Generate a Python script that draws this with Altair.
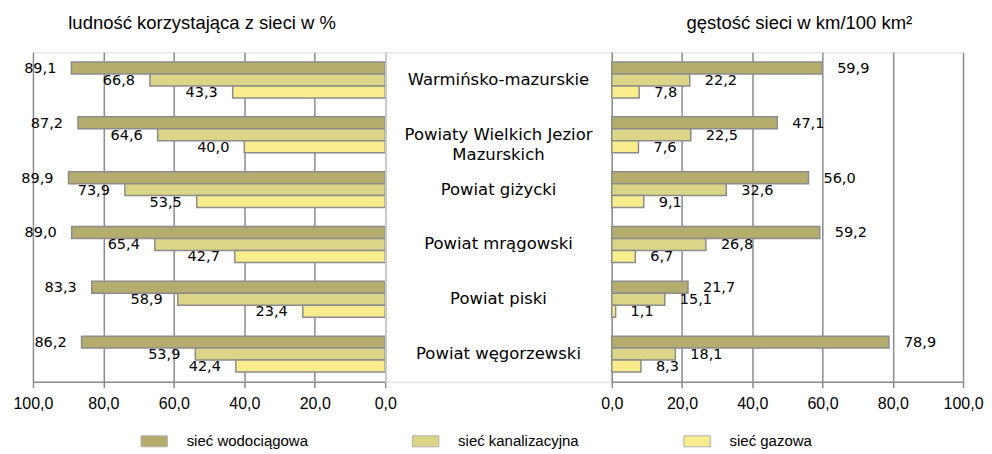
import altair as alt
import pandas as pd

categories = ["Warmińsko-mazurskie", "Powiaty Wielkich Jezior Mazurskich", "Powiat giżycki",
              "Powiat mrągowski", "Powiat piski", "Powiat węgorzewski"]
cat_labels = ["Warmińsko-mazurskie", "Powiaty Wielkich Jezior\nMazurskich", "Powiat giżycki",
              "Powiat mrągowski", "Powiat piski", "Powiat węgorzewski"]
series = ["sieć wodociągowa", "sieć kanalizacyjna", "sieć gazowa"]
colors = ["#B4AD6E", "#DAD587", "#F8EC8C"]

# ludność korzystająca z sieci w %
pop_water = [89.1, 87.2, 89.9, 89.0, 83.3, 86.2]
pop_sewer = [66.8, 64.6, 73.9, 65.4, 58.9, 53.9]
pop_gas = [43.3, 40.0, 53.5, 42.7, 23.4, 42.4]

# gęstość sieci w km/100 km2
den_water = [59.9, 47.1, 56.0, 59.2, 21.7, 78.9]
den_sewer = [22.2, 22.5, 32.6, 26.8, 15.1, 18.1]
den_gas = [7.8, 7.6, 9.1, 6.7, 1.1, 8.3]


def build(vals_list):
    rows = []
    for s, vals in zip(series, vals_list):
        for c, v in zip(categories, vals):
            rows.append({"cat": c, "series": s, "value": v,
                         "label": f"{v:.1f}".replace(".", ",")})
    return pd.DataFrame(rows)


pop_df = build([pop_water, pop_sewer, pop_gas])
den_df = build([den_water, den_sewer, den_gas])
mid_df = pd.DataFrame({"cat": categories, "text": cat_labels})

H = 330
yscale = alt.Scale(domain=categories, paddingInner=0.345, paddingOuter=0.176)
color = alt.Color("series:N", scale=alt.Scale(domain=series, range=colors),
                  sort=series,
                  legend=alt.Legend(title=None, orient="none", direction="horizontal",
                                    legendX=114, legendY=382,
                                    symbolType="M-2.4,-1H2.4V1H-2.4Z", symbolSize=121,
                                    symbolStrokeColor="#B0B0B0", symbolStrokeWidth=1,
                                    labelFont="Liberation Sans", labelFontSize=15,
                                    labelColor="#000000", labelOffset=25,
                                    gridAlign="all", columnPadding=102))
yoff = alt.YOffset("series:N", sort=series, scale=alt.Scale(domain=series))
lab_expr = "replace(format(datum.value, '.1f'), '.', ',')"


def panel(df, reverse, title, width, tdx):
    x = alt.X("value:Q",
              scale=alt.Scale(domain=[0, 100], reverse=reverse, nice=False),
              axis=alt.Axis(title=None, values=[0, 20, 40, 60, 80, 100],
                            labelExpr=lab_expr, labelFlush=False, labelOverlap=False,
                            grid=True, gridColor="#8C8C8C",
                            gridWidth=1.5, domainColor="#8C8C8C", domainWidth=1.5,
                            tickColor="#8C8C8C", tickSize=6, tickWidth=1.5,
                            labelFont="Liberation Sans", labelFontSize=16,
                            labelColor="#000000", labelPadding=8))
    y = alt.Y("cat:N", scale=yscale, axis=None)
    bars = alt.Chart(df).mark_bar(stroke="#8C8C8C", strokeWidth=1.5).encode(
        x=x, y=y, yOffset=yoff, color=color)
    text = alt.Chart(df).mark_text(
        align="right" if reverse else "left", dx=-15 if reverse else 15, dy=1,
        baseline="middle", font="DejaVu Sans", fontSize=14.5, color="#000000"
    ).encode(x="value:Q", y=y, yOffset=yoff, text="label:N")
    return alt.layer(bars, text).properties(
        width=width, height=H,
        title=alt.TitleParams(title, font="Liberation Sans", fontSize=18.5,
                              fontWeight="normal", color="#000000", offset=20, dx=tdx))


left = panel(pop_df, True, "ludność korzystająca z sieci w %", 353, -7)
right = panel(den_df, False, "gęstość sieci w km/100 km²", 352, 12)

mid = alt.Chart(mid_df).mark_text(
    align="center", baseline="middle", font="DejaVu Sans", fontSize=16.5,
    color="#000000", lineBreak="\n", lineHeight=20
).encode(
    y=alt.Y("cat:N", scale=yscale, axis=None),
    x=alt.value(113.5),
    text="text:N",
).properties(width=227, height=H)

chart = alt.hconcat(left, mid, right, spacing=0, bounds="flush").resolve_scale(
    x="independent"
).configure_view(stroke=None).configure(padding={"left": 4, "top": 5, "right": 0, "bottom": 0})

chart.save("out.html", embed_options={"renderer": "svg", "actions": False})
